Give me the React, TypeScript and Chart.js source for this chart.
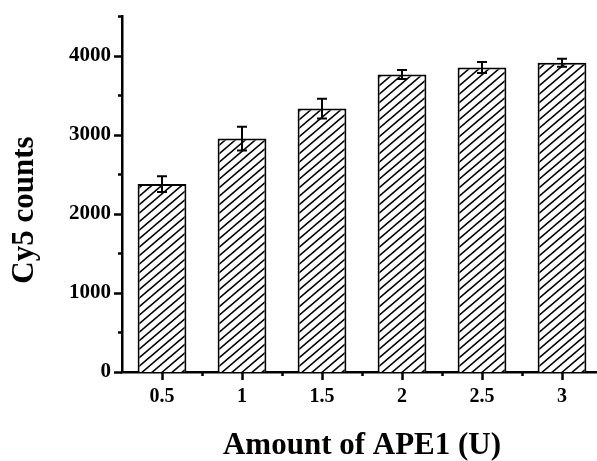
import { useEffect, useRef } from "react";
import { Chart, registerables } from "chart.js";
Chart.register(...registerables);

const categories = ["0.5", "1", "1.5", "2", "2.5", "3"];
const counts = [2375, 2950, 3330, 3760, 3850, 3910];
const errors = [100, 150, 125, 57, 70, 50];
const yMax = 4500;
const yMajorStep = 1000;
const yMinorStep = 500;
const xTitle = "Amount of APE1 (U)";
const yTitle = "Cy5 counts";

const FONT = "'Liberation Serif', 'Times New Roman', serif";

function makeHatch(): CanvasPattern | string {
  const W = 10;
  const H = 8.5;
  const tile = document.createElement("canvas");
  tile.width = W;
  tile.height = 17;
  const c = tile.getContext("2d");
  if (!c) return "#fff";
  c.fillStyle = "#fff";
  c.fillRect(0, 0, W, 17);
  c.strokeStyle = "#000";
  c.lineWidth = 1.7;
  for (let n = -2; n <= 2; n++) {
    c.beginPath();
    c.moveTo(-W, 2 * H + n * H);
    c.lineTo(2 * W, -H + n * H);
    c.stroke();
  }
  const p = c.createPattern(tile, "repeat");
  return p || "#fff";
}

const overlay = {
  id: "overlay",
  afterDatasetsDraw(chart: any) {
    const { ctx, scales, chartArea } = chart;
    const x = scales.x;
    const y = scales.y;
    const meta = chart.getDatasetMeta(0);
    ctx.save();
    ctx.strokeStyle = "#000";
    ctx.lineCap = "butt";
    // error bars
    ctx.lineWidth = 2;
    meta.data.forEach((bar: any, i: number) => {
      const cx = bar.x;
      const top = y.getPixelForValue(counts[i] + errors[i]);
      const bot = y.getPixelForValue(counts[i] - errors[i]);
      ctx.beginPath();
      ctx.moveTo(cx, top);
      ctx.lineTo(cx, bot);
      ctx.moveTo(cx - 5, top);
      ctx.lineTo(cx + 5, top);
      ctx.moveTo(cx - 5, bot);
      ctx.lineTo(cx + 5, bot);
      ctx.stroke();
    });
    // y ticks
    ctx.lineWidth = 2.5;
    const ax = chartArea.left;
    for (let v = 0; v <= yMax; v += yMinorStep) {
      const py = Math.round(y.getPixelForValue(v)) + 0.5;
      const len = v % yMajorStep === 0 ? 8 : 4;
      ctx.beginPath();
      ctx.moveTo(ax, py);
      ctx.lineTo(ax - len, py);
      ctx.stroke();
    }
    // x ticks
    const ay = chartArea.bottom;
    categories.forEach((_, i) => {
      const px = Math.round(x.getPixelForValue(i)) + 0.5;
      ctx.beginPath();
      ctx.moveTo(px, ay);
      ctx.lineTo(px, ay + 8);
      ctx.stroke();
      if (i < categories.length - 1) {
        const mx = Math.round((x.getPixelForValue(i) + x.getPixelForValue(i + 1)) / 2) + 0.5;
        ctx.beginPath();
        ctx.moveTo(mx, ay);
        ctx.lineTo(mx, ay + 4);
        ctx.stroke();
      }
    });
    // y title
    ctx.fillStyle = "#000";
    ctx.font = `bold 31px ${FONT}`;
    ctx.textAlign = "center";
    ctx.textBaseline = "middle";
    ctx.translate(chartArea.left - 97, (chartArea.top + chartArea.bottom) / 2 + 16);
    ctx.rotate(-Math.PI / 2);
    ctx.fillText(yTitle, 0, 0);
    ctx.restore();
  },
};

export default function App() {
  const ref = useRef<HTMLCanvasElement | null>(null);
  useEffect(() => {
    document.body.style.margin = "0";
    document.documentElement.style.overflow = "hidden";
    const canvas = ref.current;
    if (!canvas) return;
    const hatch = makeHatch();
    const chart = new Chart(canvas, {
      type: "bar",
      data: {
        labels: categories,
        datasets: [
          {
            data: counts,
            backgroundColor: hatch as any,
            borderColor: "#000",
            borderWidth: 2,
            barPercentage: 0.61,
            categoryPercentage: 1,
          },
        ],
      },
      options: {
        responsive: false,
        animation: false,
        devicePixelRatio: 1,
        layout: { padding: { top: 16, right: 8, left: 0, bottom: 0 } },
        plugins: { legend: { display: false }, tooltip: { enabled: false } },
        scales: {
          x: {
            grid: { display: false, drawTicks: false },
            border: { display: true, color: "#000", width: 2.5 },
            ticks: {
              color: "#000",
              padding: 13,
              font: { family: FONT, size: 20, weight: "bold" },
            },
            title: {
              display: true,
              text: xTitle,
              color: "#000",
              font: { family: FONT, size: 31, weight: "bold", lineHeight: 1 },
              padding: { top: 0, bottom: 0 },
            },
            afterFit(axis: any) {
              axis.height = 89;
              axis.paddingLeft = 0;
              axis.paddingRight = 0;
            },
          },
          y: {
            min: 0,
            max: yMax,
            grid: { display: false, drawTicks: false },
            border: { display: true, color: "#000", width: 2.5 },
            ticks: {
              stepSize: yMinorStep,
              color: "#000",
              padding: 11,
              font: { family: FONT, size: 21, weight: "bold" },
              callback: (v: any) => (Number(v) % yMajorStep === 0 ? String(v) : ""),
            },
            afterFit(axis: any) {
              axis.width = 122;
              axis.paddingTop = 0;
              axis.paddingBottom = 0;
            },
          },
        },
      },
      plugins: [overlay],
    });
    return () => chart.destroy();
  }, []);
  return (
    <div style={{ width: 597, height: 461, overflow: "hidden", position: "relative", background: "#fff" }}>
      <canvas ref={ref} width={610} height={461} style={{ display: "block" }} />
    </div>
  );
}
